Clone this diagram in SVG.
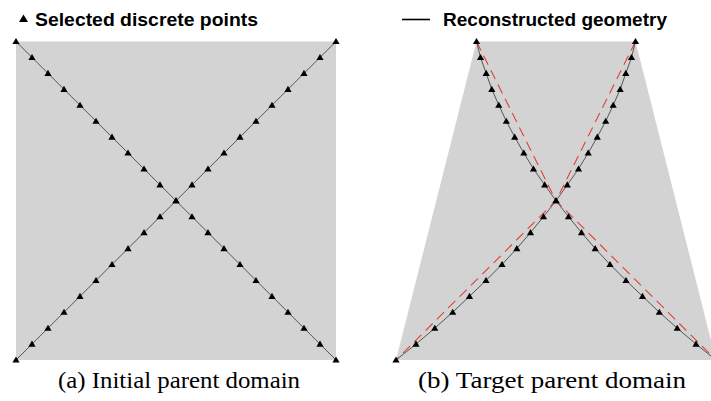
<svg xmlns="http://www.w3.org/2000/svg" width="711" height="401" viewBox="0 0 711 401">
  <style>
    .domain { fill: #d3d3d3; stroke: none; }
    .geom { fill: none; stroke: #555555; stroke-width: 1; }
    .pts { fill: none; stroke: none; marker-start: url(#tri); marker-mid: url(#tri); marker-end: url(#tri); }
    .ref { fill: none; stroke: #e0403a; stroke-width: 1.1; stroke-dasharray: 10 6; }
    .legend { font-family: "Liberation Sans", Arial, sans-serif; font-weight: bold; font-size: 18.5px; fill: #000; }
    .caption { font-family: "Liberation Serif", "Times New Roman", serif; font-size: 23.5px; fill: #000; }
  </style>
  <defs>
    <marker id="tri" markerUnits="userSpaceOnUse" markerWidth="10" markerHeight="10" viewBox="-5 -5 10 10" refX="0" refY="0" orient="0" overflow="visible">
      <path d="M0,-3.5 L3.6,2.6 L-3.6,2.6 Z" fill="#000"/>
    </marker>
  </defs>

  <!-- Legends -->
  <g id="legend-points">
    <path d="M23.5,14.5 L28,22 L19,22 Z" fill="#000"/>
    <text class="legend" x="35" y="25.5" textLength="223" lengthAdjust="spacingAndGlyphs">Selected discrete points</text>
  </g>
  <g id="legend-geometry">
    <line x1="402" y1="19.5" x2="430" y2="19.5" stroke="#000" stroke-width="1.6"/>
    <text class="legend" x="443" y="25.5" textLength="224" lengthAdjust="spacingAndGlyphs">Reconstructed geometry</text>
  </g>

  <!-- Panel (a): initial parent domain -->
  <g id="panel-a">
    <rect id="domain-a" class="domain" x="16" y="41.5" width="320" height="318.5"/>
    <g id="connectors-a">
      <polyline class="geom" points="16,41.5 336,360"/>
      <polyline class="geom" points="336,41.5 16,360"/>
    </g>
    <g id="points-a">
      <polyline class="pts" points="16,41.5 32,57.43 48,73.35 64,89.28 80,105.2 96,121.13 112,137.05 128,152.98 144,168.9 160,184.83 176,200.75 192,216.68 208,232.6 224,248.53 240,264.45 256,280.38 272,296.3 288,312.23 304,328.15 320,344.08 336,360"/>
      <polyline class="pts" points="336,41.5 320,57.43 304,73.35 288,89.28 272,105.2 256,121.13 240,137.05 224,152.98 208,168.9 192,184.83 176,200.75 160,216.68 144,232.6 128,248.53 112,264.45 96,280.38 80,296.3 64,312.23 48,328.15 32,344.08 16,360"/>
    </g>
    <text id="caption-a" class="caption" x="58" y="387.5" textLength="242" lengthAdjust="spacingAndGlyphs">(a) Initial parent domain</text>
  </g>

  <!-- Panel (b): target parent domain -->
  <g id="panel-b">
    <polygon id="domain-b" class="domain" points="476.5,41.5 635.5,41.5 716,360 396,360"/>
    <g id="connectors-b">
      <polyline class="geom" points="476.5,41.5 480.5,57.43 486.2,73.35 491.8,89.28 498.8,105.2 506.3,121.13 514.7,137.05 523.8,152.98 533.5,168.9 544.7,184.83 556,200.75 568.5,216.68 581.5,232.6 595.2,248.53 610,264.45 626,280.38 642.5,296.3 659.3,312.23 677.2,328.15 696,344.08 716,360"/>
      <polyline class="geom" points="635.5,41.5 631.5,57.43 625.8,73.35 620.2,89.28 613.2,105.2 605.7,121.13 597.3,137.05 588.2,152.98 578.5,168.9 567.3,184.83 556,200.75 543.5,216.68 530.5,232.6 516.8,248.53 502,264.45 486,280.38 469.5,296.3 452.7,312.23 434.8,328.15 416,344.08 396,360"/>
      <polyline class="ref" points="476.5,41.5 556,200.75 716,360"/>
      <polyline class="ref" points="635.5,41.5 556,200.75 396,360"/>
    </g>
    <g id="points-b">
      <polyline class="pts" points="476.5,41.5 480.5,57.43 486.2,73.35 491.8,89.28 498.8,105.2 506.3,121.13 514.7,137.05 523.8,152.98 533.5,168.9 544.7,184.83 556,200.75 568.5,216.68 581.5,232.6 595.2,248.53 610,264.45 626,280.38 642.5,296.3 659.3,312.23 677.2,328.15 696,344.08 716,360"/>
      <polyline class="pts" points="635.5,41.5 631.5,57.43 625.8,73.35 620.2,89.28 613.2,105.2 605.7,121.13 597.3,137.05 588.2,152.98 578.5,168.9 567.3,184.83 556,200.75 543.5,216.68 530.5,232.6 516.8,248.53 502,264.45 486,280.38 469.5,296.3 452.7,312.23 434.8,328.15 416,344.08 396,360"/>
    </g>
    <text id="caption-b" class="caption" x="418" y="387.5" textLength="268" lengthAdjust="spacingAndGlyphs">(b) Target parent domain</text>
  </g>
</svg>
